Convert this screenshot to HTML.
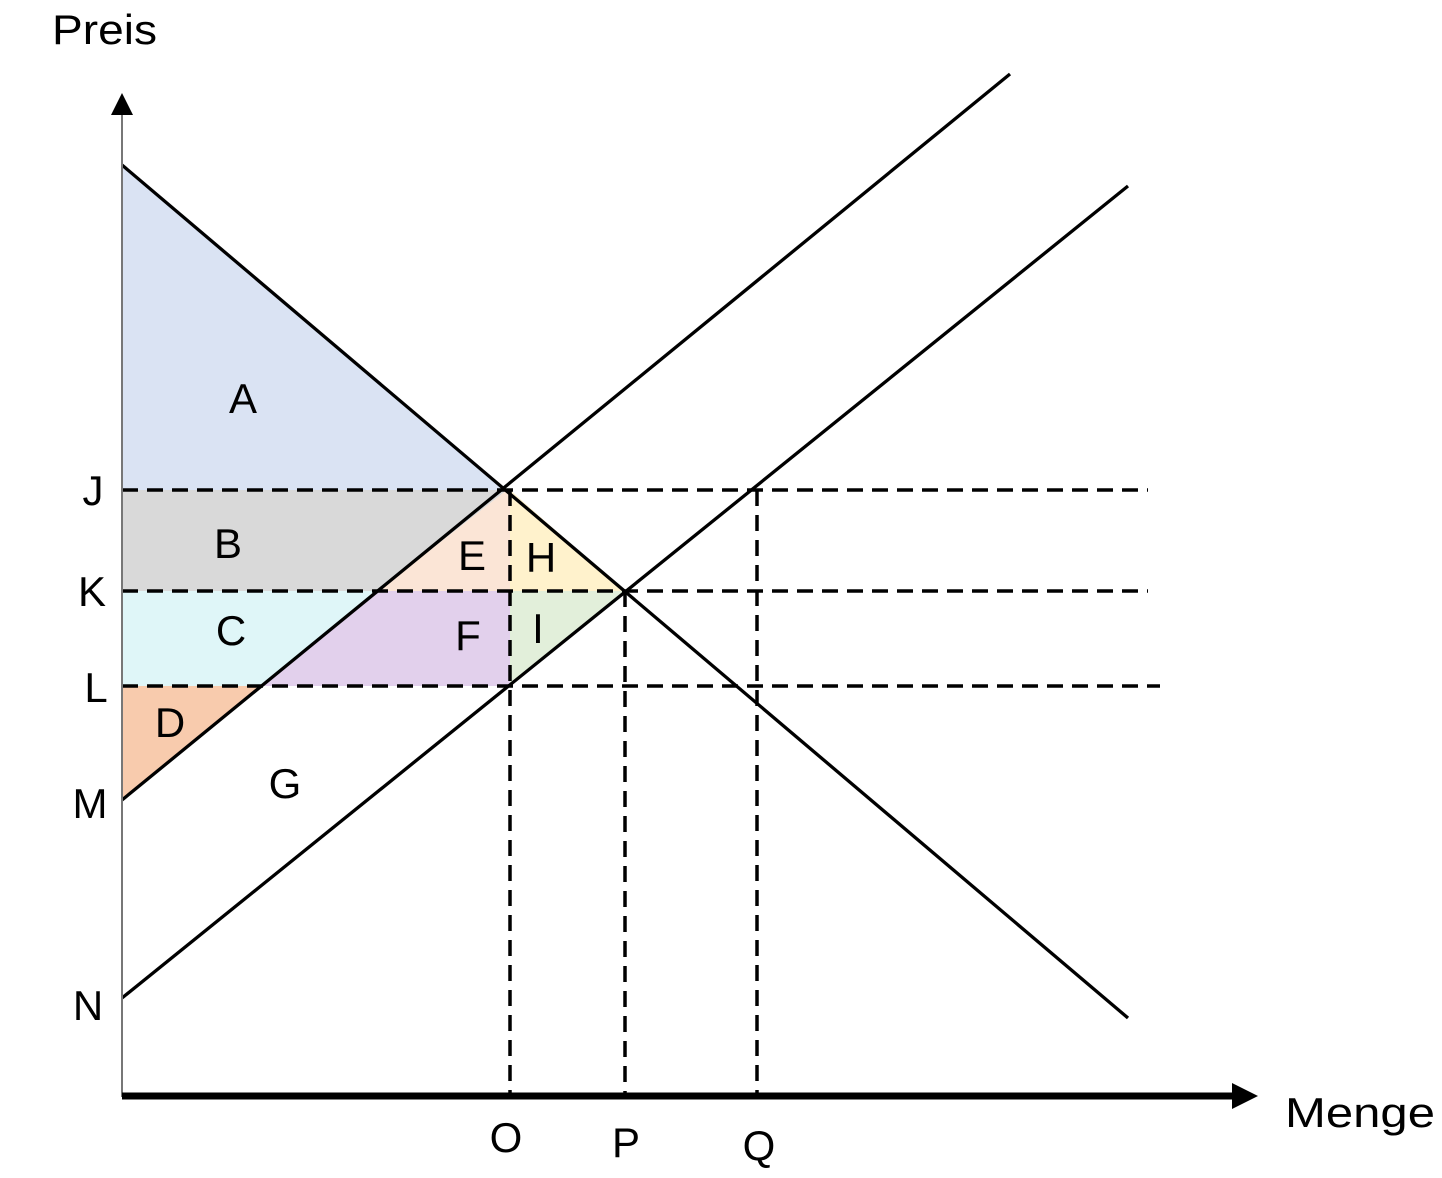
<!DOCTYPE html>
<html><head><meta charset="utf-8"><style>html,body{margin:0;padding:0;background:#fff}</style></head>
<body>
<svg width="1442" height="1173" viewBox="0 0 1442 1173" xmlns="http://www.w3.org/2000/svg" font-family="'Liberation Sans', sans-serif" font-size="42" fill="#000">
<polygon points="122,165 507,490 122,490" fill="#dae3f3"/>
<polygon points="122,490 507,490 378,591 122,591" fill="#d9d9d9"/>
<polygon points="507,490 510,490 510,591 378,591" fill="#fbe5d6"/>
<polygon points="510,490 624,591 510,591" fill="#fff2cc"/>
<polygon points="122,591 378,591 261,686 122,686" fill="#dff6f8"/>
<polygon points="378,591 510,591 510,686 261,686" fill="#e2d0ec"/>
<polygon points="510,591 624,591 510,686" fill="#e2efda"/>
<polygon points="122,686 261,686 122,800" fill="#f8cbad"/>
<g stroke="#000" stroke-width="3.5" stroke-dasharray="16,9" fill="none">
<line x1="122" y1="490" x2="1148" y2="490"/>
<line x1="122" y1="591" x2="1148" y2="591"/>
<line x1="122" y1="686" x2="1160" y2="686"/>
<line x1="510" y1="490" x2="510" y2="1094"/>
<line x1="625" y1="591" x2="625" y2="1094"/>
<line x1="757" y1="490" x2="757" y2="1094"/>
</g>
<g stroke="#000" stroke-width="3.3" fill="none">
<line x1="122" y1="165" x2="1128" y2="1018"/>
<line x1="122" y1="800" x2="1010" y2="74"/>
<line x1="122" y1="998" x2="1128" y2="186"/>
</g>
<line x1="122" y1="112" x2="122" y2="1097" stroke="#777" stroke-width="2"/>
<polygon points="122,93 111,115 133,115" fill="#000"/>
<line x1="122" y1="1096" x2="1236" y2="1096" stroke="#000" stroke-width="7"/>
<polygon points="1258,1096 1232,1083 1232,1109" fill="#000"/>
<text x="52" y="44" textLength="105" lengthAdjust="spacingAndGlyphs">Preis</text>
<text x="1285" y="1127" textLength="150" lengthAdjust="spacingAndGlyphs">Menge</text>
<g text-anchor="middle">
<text x="243" y="413">A</text>
<text x="228" y="558">B</text>
<text x="472" y="570">E</text>
<text x="541" y="572">H</text>
<text x="231" y="645">C</text>
<text x="468" y="650">F</text>
<text x="538" y="643">I</text>
<text x="170" y="737">D</text>
<text x="285" y="798">G</text>
<text x="93" y="505">J</text>
<text x="92" y="606">K</text>
<text x="96" y="702">L</text>
<text x="90" y="818">M</text>
<text x="88" y="1020">N</text>
<text x="506" y="1152">O</text>
<text x="626" y="1157">P</text>
<text x="759" y="1160">Q</text>
</g>
</svg>
</body></html>
